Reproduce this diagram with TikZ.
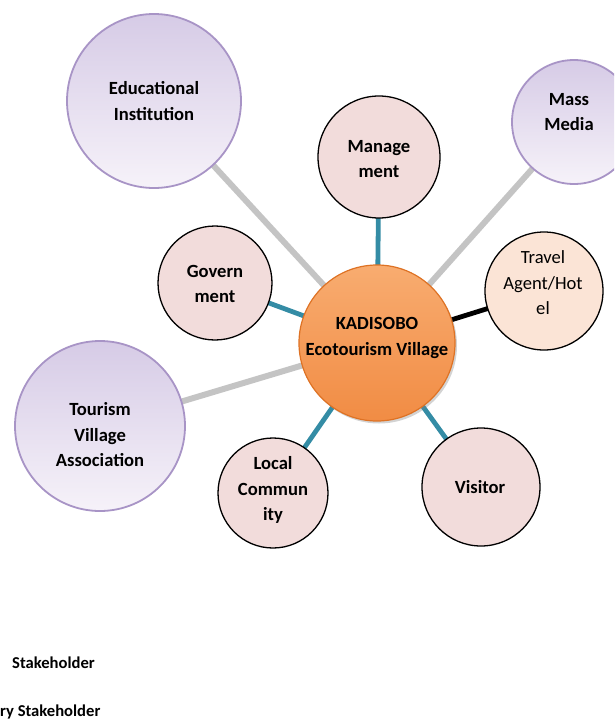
\documentclass[tikz,border=0pt]{standalone}
\usepackage{fontspec}
\setmainfont{Carlito}
\usetikzlibrary{shadows,backgrounds}

\definecolor{lavtop}{RGB}{214,203,230}
\definecolor{lavbot}{RGB}{246,242,249}
\definecolor{lavedge}{RGB}{168,148,198}
\definecolor{pinkfill}{RGB}{242,220,219}
\definecolor{peachfill}{RGB}{251,228,214}
\definecolor{orangetop}{RGB}{248,172,112}
\definecolor{orangebot}{RGB}{241,140,68}
\definecolor{orangeedge}{RGB}{222,114,36}
\definecolor{tealline}{RGB}{52,140,165}
\definecolor{grayline}{RGB}{196,196,196}

\tikzset{
  secondary/.style={circle, draw=lavedge, line width=1.8pt, top color=lavtop, bottom color=lavbot, inner sep=0pt},
  primary/.style={circle, draw=black, line width=1.3pt, fill=pinkfill, inner sep=0pt},
  partner/.style={circle, draw=black, line width=1.3pt, fill=peachfill, inner sep=0pt},
  hub/.style={circle, draw=orangeedge, line width=1.2pt, top color=orangetop, bottom color=orangebot, inner sep=0pt,
    drop shadow={shadow xshift=2pt, shadow yshift=-2.5pt, opacity=0.35}},
  lbl/.style={align=center, font=\fontsize{18.6}{25.5}\selectfont\bfseries, text=black},
  lblreg/.style={align=center, font=\fontsize{18.6}{25.5}\selectfont, text=black},
  legend/.style={anchor=west, font=\fontsize{16.6}{19}\selectfont\bfseries, inner sep=0pt},
  greylink/.style={draw=grayline, line width=6pt},
  teallink/.style={draw=tealline, line width=4.8pt},
  blacklink/.style={draw=black, line width=4.8pt},
}

\begin{document}
\begin{tikzpicture}[x=1pt, y=-1pt]
  \useasboundingbox (0,0) rectangle (614,726);
  \clip (0,0) rectangle (614,726);

  % stakeholder circles
  \node[secondary, minimum size=174pt] (edu)  at (154,101) {};
  \node[secondary, minimum size=124pt] (mass) at (574,122) {};
  \node[secondary, minimum size=170pt] (tva)  at (100,426) {};
  \node[primary,   minimum size=122pt] (mgmt) at (379,157) {};
  \node[primary,   minimum size=114pt] (gov)  at (215,283) {};
  \node[partner,   minimum size=118pt] (trav) at (544,291) {};
  \node[primary,   minimum size=110pt] (loc)  at (273,493) {};
  \node[primary,   minimum size=118pt] (vis)  at (481,487) {};

  % the village at the hub
  \node[hub, minimum size=156pt] (hub) at (377,343) {};

  % links, behind the circles
  \begin{scope}[on background layer]
    \draw[greylink]  (edu.center)  -- (hub.center);
    \draw[greylink]  (mass.center) -- (hub.center);
    \draw[greylink]  (tva.center)  -- (hub.center);
    \draw[teallink]  (mgmt.center) -- (hub.center);
    \draw[teallink]  (gov.center)  -- (hub.center);
    \draw[teallink]  (loc.center)  -- (hub.center);
    \draw[teallink]  (vis.center)  -- (hub.center);
    \draw[blacklink] (trav.center) -- (hub.center);
  \end{scope}

  % labels
  \node[lbl] (edut)  at (154,101) {Educational\\Institution};
  \node[lbl] (masst) at (569,112) {Mass\\Media};
  \node[lbl] (tvat)  at (100,435) {Tourism\\Village\\Association};
  \node[lbl] (mgmtt) at (379,159) {Manage\\ment};
  \node[lbl] (govt)  at (215,284) {Govern\\ment};
  \node[lblreg] (travt) at (543,283) {Travel\\Agent/Hot\\el};
  \node[lbl] (loct)  at (273,490) {Local\\Commun\\ity};
  \node[lbl] (vist)  at (480,487) {Visitor};
  \node[lbl] (hubt)  at (377,338) {KADISOBO\\Ecotourism Village};

  % legend
  \node[legend] (leg1) at (12,663) {Stakeholder};
  \node[legend] (leg2) at (0,712) {ry Stakeholder};
\end{tikzpicture}
\end{document}
